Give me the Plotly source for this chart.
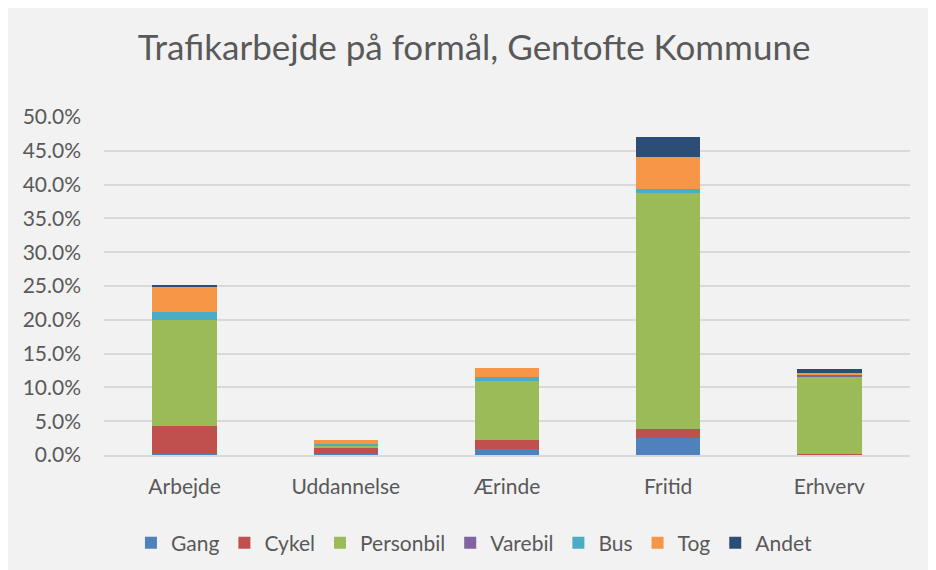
import plotly.graph_objects as go

# data (share of traffic work, %)
categories = ["Arbejde", "Uddannelse", "Ærinde", "Fritid", "Erhverv"]
gang = [0.2, 0.2, 0.85, 2.45, 0.0]
cykel = [4.1, 0.9, 1.35, 1.45, 0.2]
personbil = [15.7, 0.3, 8.8, 34.9, 11.4]
varebil = [0.0, 0.0, 0.0, 0.0, 0.3]
bus = [1.1, 0.3, 0.6, 0.6, 0.0]
tog = [3.7, 0.5, 1.3, 4.7, 0.3]
andet = [0.4, 0.0, 0.0, 2.9, 0.45]

series = [
    ("Gang", gang, "#4f81bd"),
    ("Cykel", cykel, "#c0504d"),
    ("Personbil", personbil, "#9bbb59"),
    ("Varebil", varebil, "#8064a2"),
    ("Bus", bus, "#4bacc6"),
    ("Tog", tog, "#f79646"),
    ("Andet", andet, "#2c4d75"),
]

FONT = "Lato, 'Open Sans', sans-serif"

fig = go.Figure()
for name, vals, color in series:
    fig.add_trace(go.Bar(
        x=categories, y=[v / 100 for v in vals], name=name,
        marker=dict(color=color, line=dict(width=0)),
    ))

fig.update_layout(
    barmode="stack",
    bargap=0.6,
    width=936, height=570,
    margin=dict(l=96, r=34, t=109, b=123),
    paper_bgcolor="#f2f2f2",
    plot_bgcolor="#f2f2f2",
    font=dict(family=FONT, color="#595959", size=21),
    title=dict(text="Trafikarbejde på formål, Gentofte Kommune",
               x=0.498, xanchor="center", y=0.93, yanchor="middle",
               font=dict(size=35, color="#595959", family=FONT)),
    yaxis=dict(range=[0, 0.5], dtick=0.05, tickformat=".1%",
               gridcolor="#d9d9d9", gridwidth=2, zeroline=False,
               ticks="", ticklabelstandoff=22, showline=False,
               tickfont=dict(size=21)),
    xaxis=dict(showline=True, linecolor="#d9d9d9", linewidth=2,
               ticks="", ticklabelstandoff=12, tickfont=dict(size=21)),
    legend=dict(orientation="h", x=0.459, xanchor="center", y=-0.2,
                yanchor="top", font=dict(size=21, color="#595959"),
                traceorder="normal", itemwidth=30, tracegroupgap=0),
)

fig.write_html("out.html")
